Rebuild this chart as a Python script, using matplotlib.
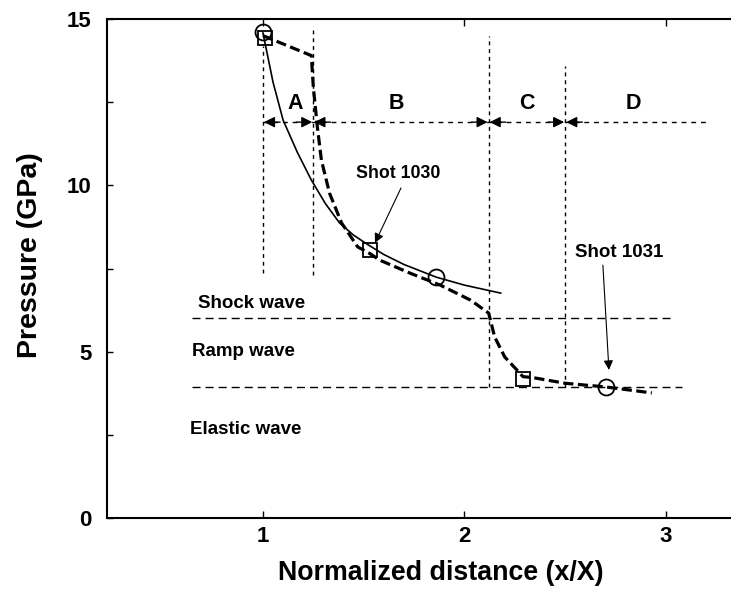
import matplotlib
matplotlib.use("Agg")
import matplotlib.pyplot as plt

plt.rcParams['font.family'] = ['Liberation Sans', 'DejaVu Sans']
plt.rcParams['font.weight'] = 'bold'

# ---- data ----
solid_x = [1.0, 1.05, 1.10, 1.17, 1.24, 1.31, 1.38, 1.45, 1.52, 1.60, 1.70, 1.86, 2.00, 2.18]
solid_y = [14.58, 13.1, 11.96, 11.0, 10.16, 9.45, 8.87, 8.5, 8.22, 7.92, 7.62, 7.24, 7.0, 6.76]

dash_x = [1.0, 1.24, 1.25, 1.27, 1.29, 1.33, 1.39, 1.47, 1.53, 1.58, 1.73, 1.88, 2.03, 2.12,
          2.15, 2.20, 2.26, 2.29, 2.34, 2.50, 2.70, 2.93]
dash_y = [14.5, 13.9, 12.95, 11.75, 10.76, 9.77, 8.87, 8.15, 7.95, 7.75, 7.36, 7.0, 6.55, 6.16,
          5.44, 4.84, 4.45, 4.25, 4.22, 4.05, 3.94, 3.76]

circle_x = [1.0, 1.86, 2.70]
circle_y = [14.6, 7.24, 3.94]
square_x = [1.01, 1.53, 2.29]
square_y = [14.42, 8.05, 4.18]

region_bounds = [1.0, 1.25, 2.12, 2.50]
region_tops = [14.2, 14.8, 14.5, 13.6]
region_bottoms = [7.35, 7.3, 3.95, 3.95]
region_labels = ['A', 'B', 'C', 'D']
region_label_x = [1.16, 1.66, 2.31, 2.84]
arrow_row_y = 11.9
arrow_row_end = 3.21

shock_level = 6.0
elastic_level = 3.95
wave_labels = ['Shock wave', 'Ramp wave', 'Elastic wave']
wave_label_x = [0.68, 0.65, 0.64]
wave_label_y = [6.46, 5.0, 2.65]

# ---- figure ----
W, H, DPI = 731, 592, 100
fig = plt.figure(figsize=(W / DPI, H / DPI), dpi=DPI)
left_px, right_px, top_px, bottom_px = 107, 755, 19, 518
ax = fig.add_axes([left_px / W, (H - bottom_px) / H,
                   (right_px - left_px) / W, (bottom_px - top_px) / H])
ax.set_xlim(0.226, 0.226 + (right_px - left_px) / 201.5)
ax.set_ylim(0, 15)

# region verticals
for xb, yt, yb in zip(region_bounds, region_tops, region_bottoms):
    ax.plot([xb, xb], [yb, yt], color='k', lw=1.0, dashes=(2.8, 2.8))

# arrow row
ax.plot([region_bounds[0], arrow_row_end], [arrow_row_y, arrow_row_y],
        color='k', lw=1.0, dashes=(3.5, 3.5))
hl = 0.085
for i in range(len(region_bounds)):
    a = region_bounds[i]
    ax.annotate('', xy=(a + 0.005, arrow_row_y), xytext=(a + hl, arrow_row_y),
                arrowprops=dict(arrowstyle='-|>', color='k', lw=1.0,
                                shrinkA=0, shrinkB=0, mutation_scale=16))
    if i + 1 < len(region_bounds):
        b = region_bounds[i + 1]
        ax.annotate('', xy=(b - 0.005, arrow_row_y), xytext=(b - hl, arrow_row_y),
                    arrowprops=dict(arrowstyle='-|>', color='k', lw=1.0,
                                    shrinkA=0, shrinkB=0, mutation_scale=16))
for lab, lx in zip(region_labels, region_label_x):
    ax.text(lx, 12.47, lab, ha='center', va='center', fontsize=15.5, fontweight='bold')

# wave level lines
ax.plot([0.65, 3.04], [shock_level, shock_level], color='k', lw=1.0, dashes=(5.8, 3.6))
ax.plot([0.65, 3.08], [elastic_level, elastic_level], color='k', lw=1.0, dashes=(5.8, 3.6))
for lab, lx, ly in zip(wave_labels, wave_label_x, wave_label_y):
    ax.text(lx, ly, lab, ha='left', va='center', fontsize=13.5, fontweight='bold')

# curves
ax.plot(solid_x, solid_y, color='k', lw=1.2)
ax.plot(dash_x, dash_y, color='k', lw=2.3, dashes=(3.2, 1.4))
ax.plot(circle_x, circle_y, 'o', ms=11.5, mfc='none', mec='k', mew=1.3)
ax.plot(square_x, square_y, 's', ms=10.5, mfc='none', mec='k', mew=1.3)

# shot annotations
ax.text(1.67, 10.37, 'Shot 1030', ha='center', va='center', fontsize=12.8, fontweight='bold')
ax.annotate('', xy=(1.556, 8.27), xytext=(1.685, 9.92),
            arrowprops=dict(arrowstyle='-|>', color='k', lw=0.8,
                            shrinkA=0, shrinkB=0, mutation_scale=14))
ax.text(2.77, 7.97, 'Shot 1031', ha='center', va='center', fontsize=13.5, fontweight='bold')
ax.annotate('', xy=(2.717, 4.45), xytext=(2.687, 7.6),
            arrowprops=dict(arrowstyle='-|>', color='k', lw=0.8,
                            shrinkA=0, shrinkB=0, mutation_scale=14))

# axes styling
ax.set_xticks([1, 2, 3])
ax.set_xticklabels(['1', '2', '3'])
ax.set_yticks([0, 2.5, 5, 7.5, 10, 12.5, 15])
ax.set_yticklabels(['0', '', '5', '', '10', '', '15'])
ax.tick_params(axis='x', direction='in', length=5, width=1, pad=6, labelsize=16, top=True)
ax.tick_params(axis='y', direction='in', length=4, width=1, pad=11, labelsize=16)
for lbl in ax.get_xticklabels() + ax.get_yticklabels():
    lbl.set_fontweight('bold')
for s in ['left', 'bottom', 'top']:
    ax.spines[s].set_linewidth(1.5)
ax.spines['right'].set_visible(False)

ax.set_xlabel('Normalized distance (x/X)', fontsize=19.3, fontweight='bold')
ax.set_ylabel('Pressure (GPa)', fontsize=20.5, fontweight='bold')
ax.xaxis.set_label_coords((441 - left_px) / (right_px - left_px),
                          (bottom_px - 560) / (bottom_px - top_px))
ax.yaxis.set_label_coords((43 - left_px) / (right_px - left_px),
                          (bottom_px - 255) / (bottom_px - top_px))

fig.savefig('out.png', dpi=DPI)
